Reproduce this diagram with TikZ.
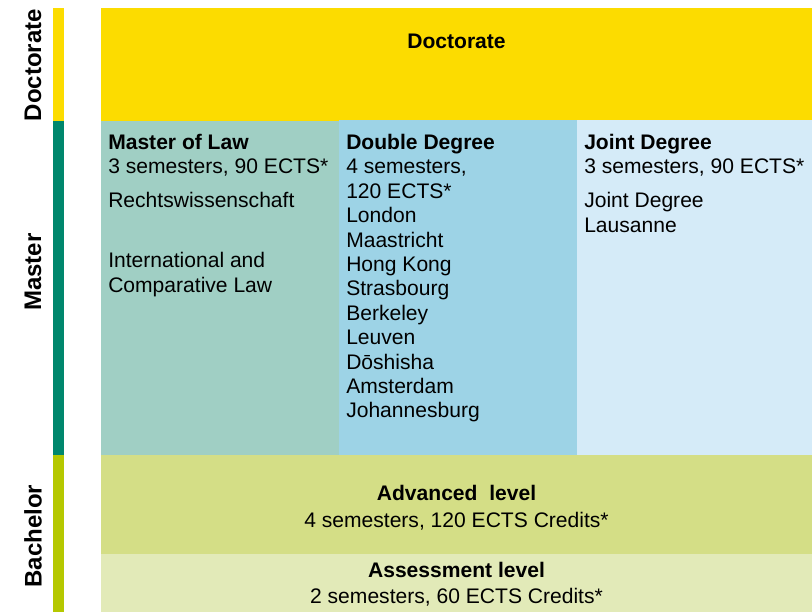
\documentclass[tikz,border=0pt]{standalone}
\usepackage{fontspec}
\setmainfont{Liberation Sans}
\usetikzlibrary{positioning}

\definecolor{docYellow}{HTML}{FCDC00}
\definecolor{masterGreen}{HTML}{00876D}
\definecolor{bachelorLime}{HTML}{B5C800}
\definecolor{lawFill}{HTML}{A0CFC4}
\definecolor{doubleFill}{HTML}{9DD3E6}
\definecolor{jointFill}{HTML}{D5EBF8}
\definecolor{advancedFill}{HTML}{D4DE86}
\definecolor{assessFill}{HTML}{E2EAB8}

\tikzset{
  bodyText/.style={font=\fontsize{15.8}{18.3}\selectfont, inner sep=0pt},
  columnText/.style={bodyText, align=left, anchor=north west},
  levelText/.style={bodyText, align=center, anchor=north},
  sideLabel/.style={font=\fontsize{18}{20}\selectfont\bfseries, inner sep=0pt, rotate=90}
}

\begin{document}
\begin{tikzpicture}[x=0.75pt,y=-0.75pt]
  \useasboundingbox (0,0) rectangle (812,612);

  % limits
  \def\barL{53}   % side bar left
  \def\barR{64}   % side bar right
  \def\boxL{101}  % boxes left
  \def\boxR{812}  % boxes right
  \def\colA{339}  % first column split
  \def\colB{577}  % second column split

  % side bar
  \fill[docYellow] (\barL,8) rectangle (\barR,121);
  \fill[masterGreen] (\barL,121) rectangle (\barR,455);
  \fill[bachelorLime] (\barL,455) rectangle (\barR,612);

  % side labels
  \node[sideLabel] (docLabel) at (33,65) {Doctorate};
  \node[sideLabel] (masterLabel) at (33,272) {Master};
  \node[sideLabel] (bachelorLabel) at (33,536) {Bachelor};

  % DOCTORATE
  \fill[docYellow] (\boxL,8) rectangle (\boxR,121);
  \node[levelText] (docTitle) at ({(\boxL+\boxR)/2},34) {\textbf{Doctorate}};

  % MASTER
  \fill[lawFill] (\boxL,121) rectangle (\colA,455);
  \fill[doubleFill] (\colA,120) rectangle (\colB,455);
  \fill[jointFill] (\colB,120) rectangle (\boxR,455);

  \node[columnText] (lawText) at (108,134) {\textbf{Master of Law}\\
    3 semesters, 90 ECTS*\\[7.2pt]
    Rechtswissenschaft\\[26.7pt]
    International and\\
    Comparative Law};

  \node[columnText] (doubleText) at (346,134) {\textbf{Double Degree}\\
    4 semesters,\\
    120 ECTS*\\
    London\\
    Maastricht\\
    Hong Kong\\
    Strasbourg\\
    Berkeley\\
    Leuven\\
    Dōshisha\\
    Amsterdam\\
    Johannesburg};

  \node[columnText] (jointText) at (584,134) {\textbf{Joint Degree}\\
    3 semesters, 90 ECTS*\\[7.2pt]
    Joint Degree\\
    Lausanne};

  % BACHELOR
  \fill[advancedFill] (\boxL,455) rectangle (\boxR,554);
  \fill[assessFill] (\boxL,554) rectangle (\boxR,612);

  \node[levelText] (advancedText) at ({(\boxL+\boxR)/2},485) {\textbf{Advanced~ level}\\[2pt]
    4 semesters, 120 ECTS Credits*};
  \node[levelText] (assessText) at ({(\boxL+\boxR)/2},562) {\textbf{Assessment level}\\[1.5pt]
    2 semesters, 60 ECTS Credits*};
\end{tikzpicture}
\end{document}
